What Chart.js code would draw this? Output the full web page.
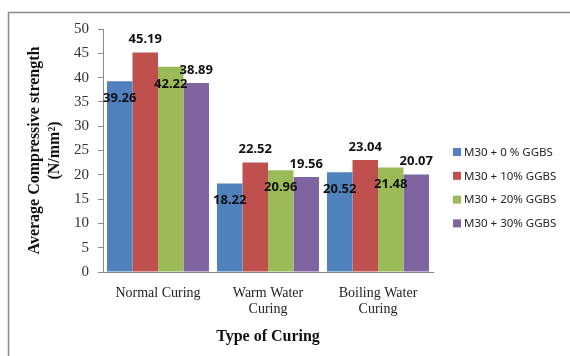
<!DOCTYPE html>
<html>
<head>
<meta charset="utf-8">
<script src="https://cdn.jsdelivr.net/npm/chart.js@4/dist/chart.umd.min.js"></script>
<style>
  html, body { margin: 0; padding: 0; background: #fff; }
  #wrap { width: 570px; height: 356px; position: relative; }
</style>
</head>
<body>
<div id="wrap"><canvas id="c" width="570" height="356"></canvas></div>
<script>
// Curing regimes (x categories)
const categories = ["Normal Curing", ["Warm Water", "Curing"], ["Boiling Water", "Curing"]];

// Mix names
const seriesNames = ["M30 + 0 % GGBS", "M30 + 10% GGBS", "M30 + 20% GGBS", "M30 + 30% GGBS"];

// Average compressive strength, N/mm²
const ggbs0  = [39.26, 18.22, 20.52];
const ggbs10 = [45.19, 22.52, 23.04];
const ggbs20 = [42.22, 20.96, 21.48];
const ggbs30 = [38.89, 19.56, 20.07];

// y-axis ticks
const yTicks = [0, 5, 10, 15, 20, 25, 30, 35, 40, 45, 50];

const colors = ["#4F81BD", "#C0504D", "#9BBB59", "#8064A2"];
const seriesValues = [ggbs0, ggbs10, ggbs20, ggbs30];

// Outer frame (top and left edges)
const framePlugin = {
  id: "frame",
  beforeDraw(chart) {
    const ctx = chart.ctx;
    ctx.save();
    ctx.fillStyle = "#fff";
    ctx.fillRect(0, 0, chart.width, chart.height);
    ctx.strokeStyle = "#8a8a8a";
    ctx.lineWidth = 1.5;
    ctx.beginPath();
    ctx.moveTo(8.5, chart.height);
    ctx.lineTo(8.5, 12.5);
    ctx.lineTo(chart.width, 12.5);
    ctx.stroke();
    ctx.restore();
  }
};

// Value labels: 0% and 20% sit just inside the bar top, 10% and 30% just above it
const valueLabelPlugin = {
  id: "valueLabels",
  afterDatasetsDraw(chart) {
    const ctx = chart.ctx;
    ctx.save();
    ctx.font = "bold 13px 'Noto Sans'";
    ctx.fillStyle = "#111";
    ctx.textAlign = "center";
    ctx.textBaseline = "middle";
    chart.data.datasets.forEach((ds, di) => {
      const meta = chart.getDatasetMeta(di);
      meta.data.forEach((bar, i) => {
        const v = ds.data[i];
        const y = (di % 2 === 0) ? bar.y + 17 : bar.y - 13;
        ctx.fillText(v.toFixed(2), bar.x, y);
      });
    });
    ctx.restore();
  }
};

// Legend on the right
const sideLegendPlugin = {
  id: "sideLegend",
  afterDraw(chart) {
    const ctx = chart.ctx;
    ctx.save();
    ctx.font = "11.5px 'Noto Sans'";
    ctx.textBaseline = "middle";
    ctx.textAlign = "left";
    chart.data.datasets.forEach((ds, i) => {
      const y = 152 + i * 23.8;
      ctx.fillStyle = ds.backgroundColor;
      ctx.fillRect(453, y - 4, 8, 8);
      ctx.fillStyle = "#262626";
      ctx.fillText(ds.label, 464, y + 0.5);
    });
    ctx.restore();
  }
};

const datasets = seriesNames.map((name, i) => ({
  label: name,
  data: seriesValues[i],
  backgroundColor: colors[i],
  borderWidth: 0,
  categoryPercentage: 0.927,
  barPercentage: 1.0
}));

new Chart(document.getElementById("c"), {
  type: "bar",
  data: { labels: categories, datasets },
  options: {
    responsive: false,
    animation: false,
    devicePixelRatio: 1,
    layout: { padding: { left: 0, top: 29, right: 137, bottom: 0 } },
    plugins: {
      legend: { display: false },
      tooltip: { enabled: false }
    },
    scales: {
      x: {
        grid: { display: false, drawTicks: false },
        border: { display: true, color: "#8a8a8a", width: 1 },
        ticks: {
          color: "#222",
          padding: 14,
          font: { family: "'Liberation Serif'", size: 14, lineHeight: 1.1 }
        },
        title: {
          display: true,
          text: "Type of Curing",
          color: "#111",
          font: { family: "'Liberation Serif'", size: 16, weight: "bold", lineHeight: 1.2 },
          padding: { top: 0, bottom: 9.4 }
        },
        afterFit(scale) { scale.height = 84; }
      },
      y: {
        min: 0,
        max: 50,
        afterBuildTicks(scale) { scale.ticks = yTicks.map(v => ({ value: v })); },
        grid: { drawOnChartArea: false, drawTicks: true, tickLength: 5, color: "#8a8a8a" },
        border: { display: true, color: "#8a8a8a", width: 1 },
        ticks: {
          color: "#333",
          padding: 9,
          font: { family: "'Liberation Serif'", size: 15 }
        },
        title: {
          display: true,
          text: ["Average Compressive strength", "(N/mm²)"],
          color: "#111",
          font: { family: "'Liberation Serif'", size: 16, weight: "bold", lineHeight: 1.25 },
          padding: { top: 25, bottom: 0 }
        },
        afterFit(scale) { scale.width = 103; }
      }
    }
  },
  plugins: [framePlugin, valueLabelPlugin, sideLegendPlugin]
});
</script>
</body>
</html>
